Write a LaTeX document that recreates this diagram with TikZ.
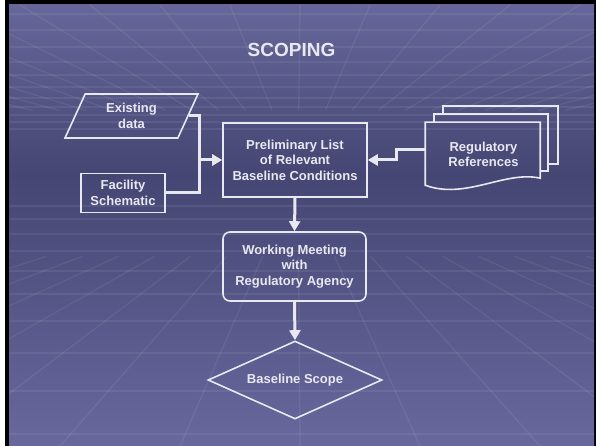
\documentclass[tikz,border=0pt]{standalone}
\usepackage{fontspec}
\setmainfont{Liberation Sans}
\usetikzlibrary{shapes.geometric,arrows.meta,calc}

\definecolor{slidetop}{RGB}{102,102,154}
\definecolor{slidemid}{RGB}{70,70,116}
\definecolor{slidebot}{RGB}{104,104,158}
\definecolor{chalk}{RGB}{232,232,240}

\tikzset{
  box/.style={draw=chalk,line width=1.6pt,text=chalk,align=center,inner sep=3pt,
    font=\bfseries\fontsize{13}{15.5}\selectfont},
  flow/.style={draw=chalk,line width=3pt},
  flowarrow/.style={flow,-{Triangle[length=10pt,width=11pt]}},
  gridline/.style={white,opacity=0.07,line width=1.3pt},
  docline/.style={draw=chalk,line width=1.6pt}
}

\begin{document}
\begin{tikzpicture}[x=1pt,y=-1pt]
  \useasboundingbox (0,0) rectangle (596,446);
  \fill[black] (5,0) rectangle (596,446);
  \shade[top color=slidetop,bottom color=slidemid] (9,5) rectangle (594,175);
  \shade[top color=slidemid,bottom color=slidebot] (9,175) rectangle (594,446.5);

  \begin{scope}
    \clip (9,5) rectangle (594,446);
    \foreach \gx in {-400,-330,...,1000}
      \draw[gridline] (\gx,5) -- ($(\gx,5)!0.62!(298,175)$);
    \foreach \gx in {-900,-780,...,1500}
      \draw[gridline] (\gx,446) -- ($(\gx,446)!0.7!(298,175)$);
    \foreach \gy in {14,30,47,62,75,87,98,107,115,122,129}
      \draw[gridline] (9,\gy) -- (594,\gy);
    \foreach \gy in {206,219,234,251,271,294,321,353,391,434}
      \draw[gridline] (9,\gy) -- (594,\gy);
  \end{scope}

  \node[text=chalk,font=\bfseries\fontsize{19}{21}\selectfont] (title) at (291.5,50) {SCOPING};

  \node[box,trapezium,trapezium left angle=57,trapezium right angle=123,
    trapezium stretches body,minimum width=133pt,minimum height=44pt] (exist) at (131.5,116) {Existing\\data};
  \node[box,minimum width=84pt,minimum height=39pt] (fac) at (123,193) {Facility\\Schematic};
  \node[box,minimum width=144pt,minimum height=74pt] (prelim) at (295,160)
    {Preliminary List\\of Relevant\\Baseline Conditions};
  \node[box,rounded corners=7pt,minimum width=143pt,minimum height=69pt] (meet) at (294.5,266.5)
    {Working Meeting\\with\\Regulatory Agency};
  \node[box,diamond,aspect=2.2,inner sep=1pt,minimum width=174pt,minimum height=78pt] (scope) at (295,380)
    {Baseline Scope};

  \node[box,draw=none,minimum width=115pt,minimum height=63pt] (regs) at (483.5,154.5)
    {Regulatory\\References};
  \begin{scope}[shift={(regs.north west)}]
    \draw[docline] (18,-8) -- (18,-16) -- (133,-16) -- (133,42) -- (123,42);
    \draw[docline] (9,0) -- (9,-8) -- (123,-8) -- (123,49) -- (115,49);
    \draw[docline] (0,0) -- (115,0) -- (115,56)
      .. controls (80,48) and (40,78) .. (0,63) -- cycle;
  \end{scope}

  \coordinate (merge) at (199,160);
  \draw[flow] (exist.east) -| (merge);
  \draw[flow] (fac.east) -| (merge);
  \draw[flowarrow] ([xshift=-1.5pt]merge) -- (prelim.west);
  \draw[flowarrow] ($(regs.west)+(0,-4.5)$) -- ++(-29,0) |- (prelim.east);
  \draw[flowarrow] (prelim.south) -- (meet.north);
  \draw[flowarrow] (meet.south) -- (scope.north);
\end{tikzpicture}
\end{document}
